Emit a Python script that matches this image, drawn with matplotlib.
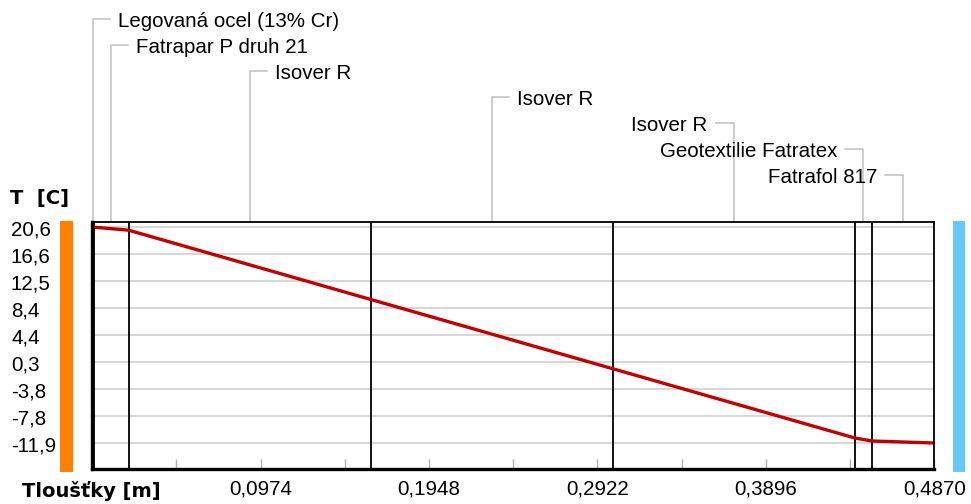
import matplotlib
matplotlib.use('Agg')
import matplotlib.pyplot as plt
import matplotlib.transforms as mtransforms
from matplotlib.patches import Rectangle
import numpy as np

plt.rcParams['font.family'] = ['Liberation Sans', 'DejaVu Sans']

# layers of the wall (from inside to outside) and temperatures at their edges
layer_names = ['Legovaná ocel (13% Cr)', 'Fatrapar P druh 21', 'Isover R', 'Isover R',
               'Isover R', 'Geotextilie Fatratex', 'Fatrafol 817']
layer_edges = [0.0, 0.001, 0.021, 0.161, 0.301, 0.441, 0.451, 0.487]
edge_temps = [20.63, 20.60, 20.15, 9.72, -0.71, -11.14, -11.60, -11.90]

x_step = 0.0487
total = layer_edges[-1]
n_ylabels = 9
fs = 14.8

W, H = 971, 504
def fx(px):
    return px / W
def fy(py):
    return 1 - py / H

fig = plt.figure(figsize=(W / 100, H / 100), dpi=100)
ax = fig.add_axes([fx(92.3), fy(468.7), fx(934.2) - fx(92.3), fy(222) - fy(468.7)])

t_max, t_min = max(edge_temps), min(edge_temps)
y_vals = np.linspace(t_max, t_min, n_ylabels)
px_per_deg = (443 - 227) / (t_max - t_min)
ax.set_xlim(0, total)
ax.set_ylim(t_min - 25.7 / px_per_deg, t_max + 5 / px_per_deg)

# grid
ax.set_yticks(y_vals)
ax.yaxis.grid(True, color='#cccccc', lw=1.1)
ax.tick_params(axis='y', length=0, labelleft=False)

# x ticks: every half step, label every full step
xt = [x_step * k for k in range(1, 11)]
xl = [('%.4f' % v).replace('.', ',') if k % 2 == 0 else '' for k, v in zip(range(1, 11), xt)]
ax.set_xticks(xt)
ax.set_xticklabels(xl)
ax.tick_params(axis='x', direction='in', length=7, width=1, color='#b0b0b0',
               labelsize=fs, pad=8)

# layer boundaries
ax.vlines(layer_edges[1:-1], *ax.get_ylim(), color='black', lw=1.3, zorder=3)

# temperature profile
ax.plot(layer_edges, edge_temps, color='#c00000', lw=2.4, solid_capstyle='butt', zorder=4)

for s in ['left', 'bottom']:
    ax.spines[s].set_linewidth(2.4)
for s in ['top', 'right']:
    ax.spines[s].set_linewidth(1.3)
for s in ax.spines.values():
    s.set_zorder(5)

# y labels
ytrans = mtransforms.blended_transform_factory(fig.transFigure, ax.transData) + \
    mtransforms.ScaledTranslation(0, -0.03, fig.dpi_scale_trans)
for v in y_vals:
    ax.text(fx(11), v, ('%.1f' % v).replace('.', ','), transform=ytrans,
            ha='left', va='center', fontsize=fs, clip_on=False)

# layer labels with leaders
px_per_m = (934.2 - 92.3) / total
ltrans = mtransforms.blended_transform_factory(ax.transData, fig.transFigure)
ax_top = fy(222)
for i, name in enumerate(layer_names):
    xm = (layer_edges[i] + layer_edges[i + 1]) / 2
    base = 27 + 26 * i
    yseg = fy(base - 8)
    if xm < total / 2:
        x2 = xm + 17 / px_per_m
        xt_ = xm + 25 / px_per_m
        ha = 'left'
    else:
        x2 = xm - 18 / px_per_m
        xt_ = xm - 26 / px_per_m
        ha = 'right'
    ax.plot([xm, xm, x2], [ax_top, yseg, yseg], color='#c0c0c0', lw=1.1,
            transform=ltrans, clip_on=False)
    ax.text(xt_, fy(base), name, transform=ltrans, ha=ha, va='baseline',
            fontsize=fs, clip_on=False)

# side colour bars (interior / exterior)
fig.add_artist(Rectangle((fx(60), fy(472)), fx(72.7) - fx(60), fy(221) - fy(472),
                         transform=fig.transFigure, color='#ff8000', lw=0))
fig.add_artist(Rectangle((fx(952.7), fy(471.7)), fx(965) - fx(952.7), fy(221) - fy(471.7),
                         transform=fig.transFigure, color='#66c8ff', lw=0))

fig.text(fx(10), fy(204), 'T  [C]', fontsize=14, weight='bold', family='DejaVu Sans',
         va='baseline')
fig.text(fx(22), fy(497), 'Tloušťky [m]', fontsize=14, weight='bold', family='DejaVu Sans',
         va='baseline')

fig.savefig('out.png', dpi=100)
